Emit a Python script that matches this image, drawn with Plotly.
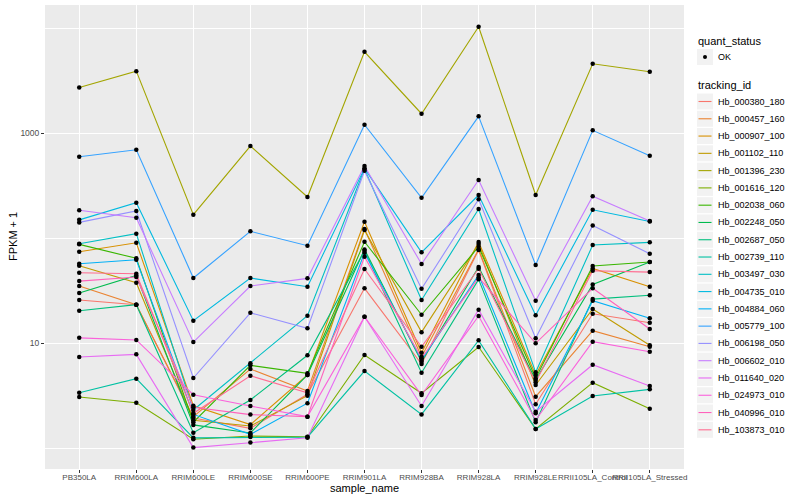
import plotly.graph_objects as go

samples = ["PB350LA", "RRIM600LA", "RRIM600LE", "RRIM600SE", "RRIM600PE", "RRIM901LA",
           "RRIM928BA", "RRIM928LA", "RRIM928LE", "RRII105LA_Control", "RRII105LA_Stressed"]

tracking_ids = ["Hb_000380_180", "Hb_000457_160", "Hb_000907_100", "Hb_001102_110", "Hb_001396_230",
                "Hb_001616_120", "Hb_002038_060", "Hb_002248_050", "Hb_002687_050", "Hb_002739_110",
                "Hb_003497_030", "Hb_004735_010", "Hb_004884_060", "Hb_005779_100", "Hb_006198_050",
                "Hb_006602_010", "Hb_011640_020", "Hb_024973_010", "Hb_040996_010", "Hb_103873_010"]

# FPKM + 1 values, one list per tracking_id, in sample order
hb_000380_180 = [25.7, 23.2, 1.93, 1.54, 3.25, 33.2, 6.31, 76.9, 2.61, 19.0, 15.6]
hb_000457_160 = [34.9, 23.2, 1.99, 5.65, 3.49, 122, 7.41, 78.0, 3.08, 13.1, 9.22]
hb_000907_100 = [74.1, 90.2, 2.53, 1.67, 4.96, 143, 8.08, 91.6, 4.96, 51.4, 34.4]
hb_001102_110 = [54.5, 37.5, 1.84, 1.62, 3.15, 119, 12.7, 87.7, 3.98, 21.1, 9.51]
hb_001396_230 = [2720, 3890, 167, 752, 246, 5950, 1528, 10290, 257, 4570, 3835]
hb_001616_120 = [3.06, 2.70, 1.21, 1.30, 1.28, 7.69, 3.32, 9.16, 1.52, 4.19, 2.37]
hb_002038_060 = [87.1, 64.1, 1.76, 6.13, 5.14, 92.2, 18.6, 82.6, 4.61, 54.1, 59.1]
hb_002248_050 = [29.9, 44.1, 1.66, 1.39, 4.96, 78.0, 6.64, 52.9, 4.44, 36.2, 59.1]
hb_002687_050 = [20.3, 23.2, 1.40, 2.87, 7.64, 75.7, 5.21, 40.4, 1.76, 26.2, 28.5]
hb_002739_110 = [3.36, 4.57, 1.25, 1.27, 1.27, 5.41, 2.09, 10.6, 1.52, 3.13, 3.62]
hb_003497_030 = [88.3, 110, 2.30, 6.41, 18.2, 454, 25.7, 189, 5.26, 85.8, 91.0]
hb_004735_010 = [149, 217, 16.3, 41.6, 34.4, 461, 73.1, 257, 18.4, 186, 144]
hb_004884_060 = [56.9, 62.1, 2.09, 1.35, 2.67, 72.4, 6.89, 44.4, 2.14, 25.3, 17.2]
hb_005779_100 = [595, 693, 41.6, 116, 84.5, 1200, 242, 1443, 55.3, 1061, 608]
hb_006198_050 = [141, 181, 4.64, 19.4, 13.8, 438, 32.9, 234, 11.1, 132, 70.8]
hb_006602_010 = [184, 156, 10.2, 34.9, 41.3, 485, 56.5, 357, 25.3, 250, 145]
hb_011640_020 = [7.36, 7.80, 1.01, 1.13, 1.25, 17.8, 2.51, 20.8, 2.22, 6.21, 3.89]
hb_024973_010 = [11.2, 10.7, 3.22, 2.51, 1.99, 17.8, 3.20, 18.1, 1.85, 10.3, 8.26]
hb_040996_010 = [38.9, 42.5, 2.44, 2.08, 1.99, 66.4, 7.15, 42.2, 9.94, 33.2, 13.6]
hb_103873_010 = [46.7, 45.7, 2.14, 4.88, 3.36, 50.7, 9.22, 51.0, 4.22, 48.8, 47.4]

series = [hb_000380_180, hb_000457_160, hb_000907_100, hb_001102_110, hb_001396_230,
          hb_001616_120, hb_002038_060, hb_002248_050, hb_002687_050, hb_002739_110,
          hb_003497_030, hb_004735_010, hb_004884_060, hb_005779_100, hb_006198_050,
          hb_006602_010, hb_011640_020, hb_024973_010, hb_040996_010, hb_103873_010]

colors = ["#F8766D", "#EA8331", "#D89000", "#C09B00", "#A3A500", "#7CAE00", "#39B600", "#00BB4E",
          "#00BF7D", "#00C1A3", "#00BFC4", "#00BAE0", "#00B0F6", "#35A2FF", "#9590FF", "#C77CFF",
          "#E76BF3", "#FA62DB", "#FF62BC", "#FF6C91"]

FONT = "Liberation Sans, Arial, sans-serif"

fig = go.Figure()
for name, vals, col in zip(tracking_ids, series, colors):
    fig.add_trace(go.Scatter(x=samples, y=vals, mode="lines", name=name,
                             line=dict(color=col, width=1.1), showlegend=False))
for name, vals in zip(tracking_ids, series):
    fig.add_trace(go.Scatter(x=samples, y=vals, mode="markers", name=name,
                             marker=dict(color="black", size=4.5), showlegend=False))

# plot area in pixels
L, R, T, B = 45, 684, 5, 469


def px_x(x):
    return (x - L) / (R - L)


def px_y(y):
    return (B - y) / (B - T)


shapes = []
annotations = []

# manual ggplot-style legend
annotations.append(dict(x=px_x(696), y=px_y(41), xref="paper", yref="paper", text="quant_status",
                        showarrow=False, xanchor="left", yanchor="middle",
                        font=dict(size=11, color="black", family=FONT)))
shapes.append(dict(type="rect", xref="paper", yref="paper", x0=px_x(697), x1=px_x(713),
                   y0=px_y(49), y1=px_y(65), fillcolor="#F2F2F2", line=dict(width=0)))
shapes.append(dict(type="circle", xref="paper", yref="paper", x0=px_x(703), x1=px_x(707),
                   y0=px_y(55), y1=px_y(59), fillcolor="black", line=dict(width=0)))
annotations.append(dict(x=px_x(716), y=px_y(57), xref="paper", yref="paper", text="OK",
                        showarrow=False, xanchor="left", yanchor="middle",
                        font=dict(size=9, color="black", family=FONT)))

annotations.append(dict(x=px_x(696), y=px_y(84.5), xref="paper", yref="paper", text="tracking_id",
                        showarrow=False, xanchor="left", yanchor="middle",
                        font=dict(size=11, color="black", family=FONT)))
step = 17.28
for i, (name, col) in enumerate(zip(tracking_ids, colors)):
    cy = 101.5 + step * i
    shapes.append(dict(type="rect", xref="paper", yref="paper", x0=px_x(697), x1=px_x(713),
                       y0=px_y(cy - 8), y1=px_y(cy + 8), fillcolor="#F2F2F2", line=dict(width=0)))
    shapes.append(dict(type="line", xref="paper", yref="paper", x0=px_x(698.5), x1=px_x(711.5),
                       y0=px_y(cy), y1=px_y(cy), line=dict(color=col, width=1.1)))
    annotations.append(dict(x=px_x(716), y=px_y(cy), xref="paper", yref="paper", text=name,
                            showarrow=False, xanchor="left", yanchor="middle",
                            font=dict(size=9, color="black", family=FONT)))

# axis titles
annotations.append(dict(x=0.5, y=px_y(488), xref="paper", yref="paper", text="sample_name",
                        showarrow=False, xanchor="center", yanchor="middle",
                        font=dict(size=11, color="black", family=FONT)))
annotations.append(dict(x=px_x(13), y=px_y(237), xref="paper", yref="paper", text="FPKM + 1",
                        showarrow=False, xanchor="center", yanchor="middle", textangle=-90,
                        font=dict(size=11, color="black", family=FONT)))

fig.update_layout(
    width=800, height=500,
    margin=dict(l=L, r=800 - R, t=T, b=500 - B, autoexpand=False),
    paper_bgcolor="white", plot_bgcolor="#EBEBEB",
    font=dict(family=FONT, color="#4D4D4D", size=9),
    shapes=shapes, annotations=annotations,
    xaxis=dict(type="category", categoryorder="array", categoryarray=samples,
               range=[-0.6, len(samples) - 0.4], showgrid=True, gridcolor="white", gridwidth=1.1,
               ticks="outside", ticklen=3, tickcolor="#333333", tickwidth=1, tickangle=0,
               ticklabelstandoff=-3,
               tickfont=dict(size=8, color="#4D4D4D", family=FONT), automargin=False,
               showline=False, zeroline=False, fixedrange=True),
    yaxis=dict(type="log", range=[-0.2, 4.22], tickmode="array", tickvals=[10, 1000],
               ticktext=["10", "1000"], showgrid=True, gridcolor="white", gridwidth=1.1,
               ticks="outside", ticklen=3, tickcolor="#333333", tickwidth=1, automargin=False,
               tickfont=dict(size=8.5, color="#4D4D4D", family=FONT),
               minor=dict(tickmode="array", tickvals=[1, 100, 10000], showgrid=True,
                          gridcolor="white", gridwidth=0.55, ticks=""),
               showline=False, zeroline=False, fixedrange=True),
    showlegend=False,
)

fig.write_html("out.html", config={"displayModeBar": False},
               post_script="document.body.style.margin='0';document.body.style.overflow='hidden';")
